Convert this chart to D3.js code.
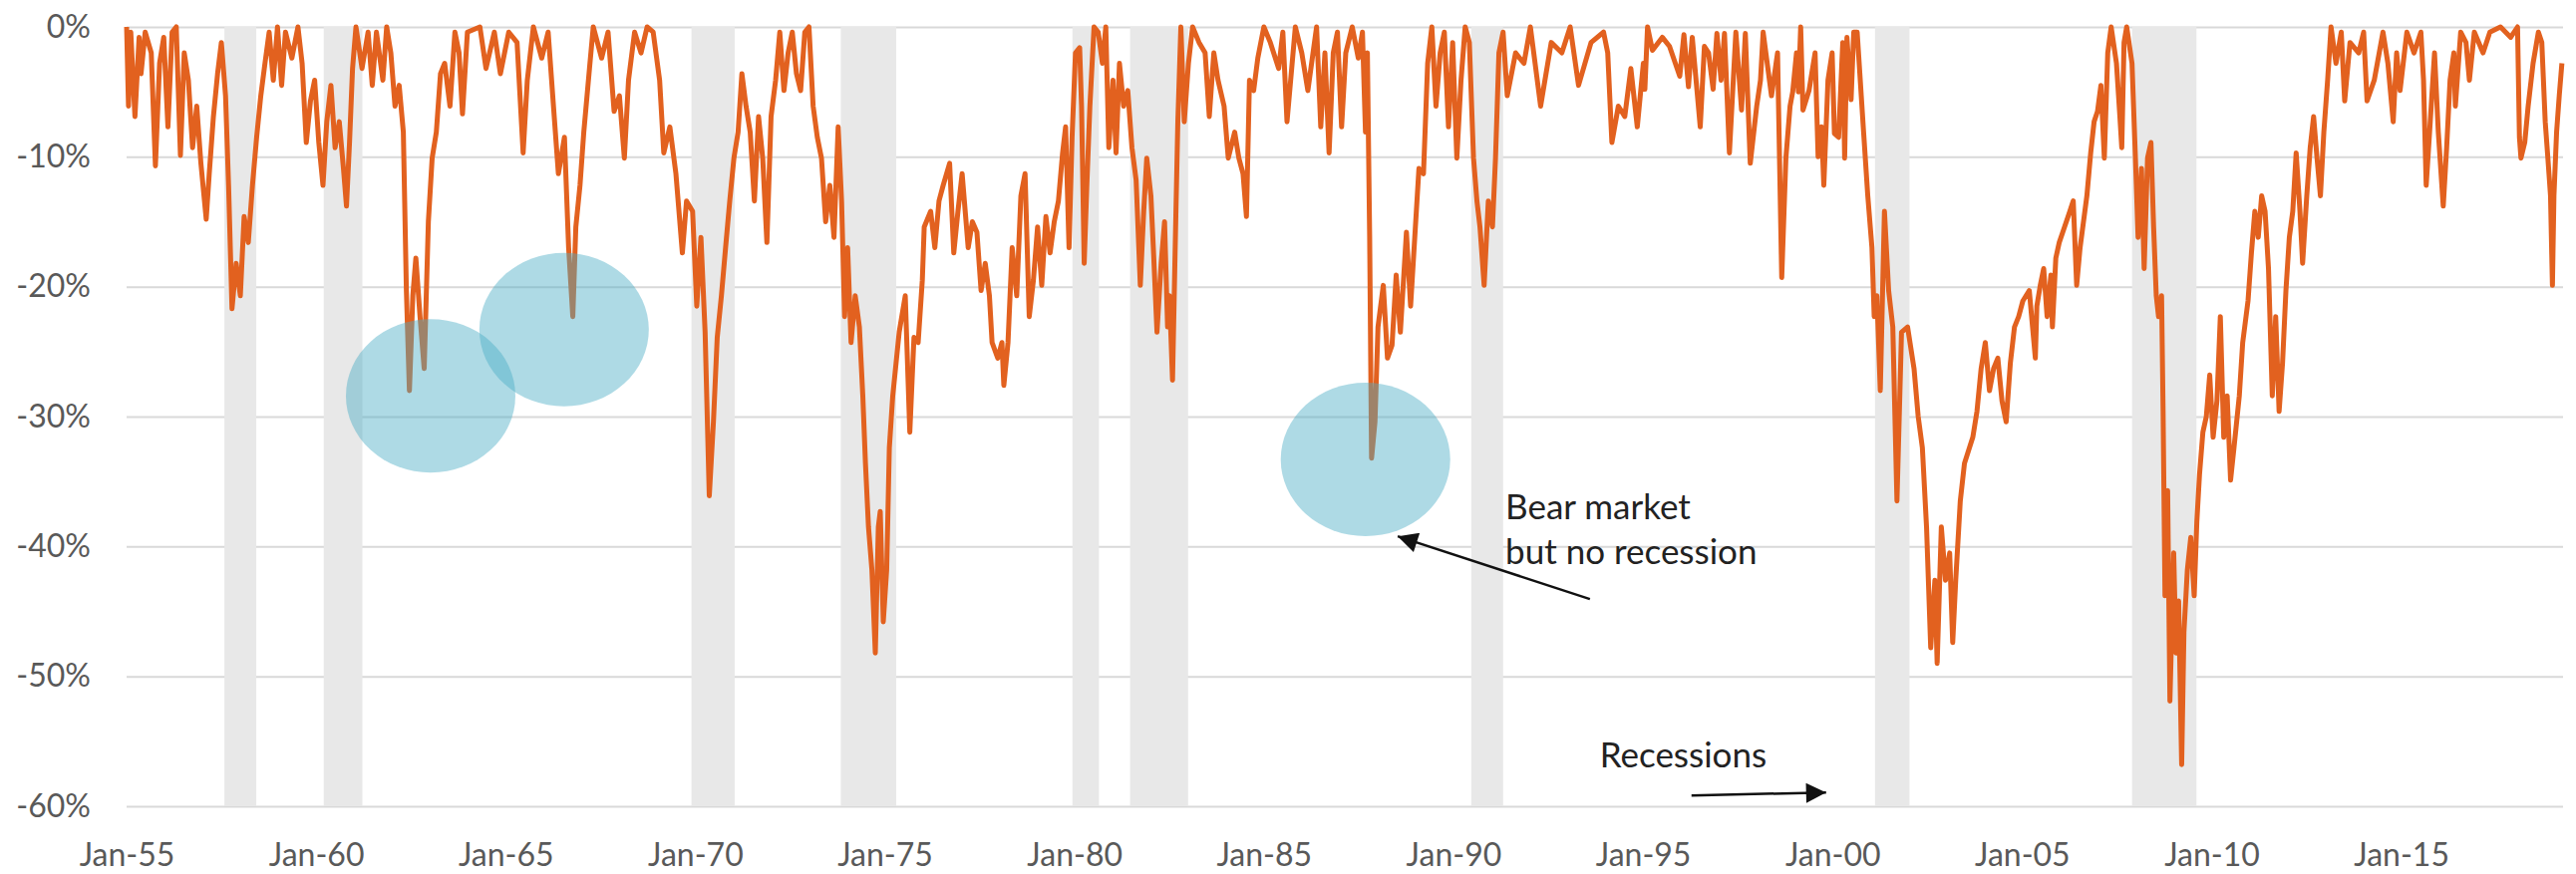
<!DOCTYPE html>
<html>
<head>
<meta charset="utf-8">
<script src="https://cdn.jsdelivr.net/npm/d3@7"></script>
<style>
  body { margin: 0; background: #fff; }
  #graf text { font-family: Lato, "Open Sans", sans-serif; }
</style>
</head>
<body>
<div id="graf"></div>
<script>
// Drawdown from previous peak (%): [year, value]
const dd1955 = [
  [1955.00,0],[1955.05,-6.1],[1955.11,-0.4],[1955.22,-6.9],[1955.33,-0.8],[1955.38,-3.6],[1955.49,-0.4],[1955.65,-2.0],
  [1955.76,-10.7],[1955.87,-2.8],[1955.98,-0.8],[1956.09,-7.7],[1956.20,-0.4],[1956.31,0],[1956.42,-9.9],[1956.52,-2.0],
  [1956.63,-4.1],[1956.74,-9.3],[1956.85,-6.1],[1956.96,-10.5],[1957.10,-14.8],[1957.18,-11.3],[1957.29,-6.9],[1957.40,-3.6],
  [1957.50,-1.2],[1957.61,-5.3],[1957.69,-12.2],[1957.78,-21.7],[1957.89,-18.2],[1958.00,-20.7],[1958.10,-14.6],[1958.21,-16.6],
  [1958.32,-12.2],[1958.43,-8.5],[1958.54,-5.3],[1958.65,-2.8],[1958.76,-0.4],[1958.87,-4.1],[1958.98,0],[1959.09,-4.5],
  [1959.19,-0.4],[1959.36,-2.4],[1959.52,0],[1959.63,-2.8],[1959.74,-8.9],[1959.85,-5.7],[1959.96,-4.1],[1960.07,-8.9],
  [1960.18,-12.2],[1960.28,-7.3],[1960.39,-4.5],[1960.50,-9.3],[1960.61,-7.3],[1960.72,-10.9],[1960.80,-13.8],[1960.88,-8.9],
  [1960.96,-3.2],[1961.05,0],[1961.21,-3.2],[1961.37,-0.4],[1961.48,-4.5],[1961.59,-0.4],[1961.76,-4.1],[1961.86,0],
  [1961.97,-2.0],[1962.08,-6.1],[1962.19,-4.5],[1962.30,-8.1],[1962.38,-20.3],[1962.46,-28.0],[1962.55,-20.7],[1962.63,-17.8],
  [1962.74,-22.3],[1962.85,-26.3],[1962.96,-15.0],[1963.06,-10.1],[1963.17,-8.1],[1963.28,-3.6],[1963.39,-2.8],[1963.53,-6.1],
  [1963.66,-0.4],[1963.77,-2.0],[1963.86,-6.7],[1963.99,-0.4],[1964.32,0],[1964.48,-3.2],[1964.70,-0.4],[1964.86,-3.6]
]
const dd1965 = [
  [1965.08,-0.4],[1965.30,-1.2],[1965.46,-9.7],[1965.57,-4.1],[1965.73,0],[1965.95,-2.4],[1966.12,-0.4],[1966.28,-6.9],
  [1966.39,-11.3],[1966.55,-8.5],[1966.66,-17.0],[1966.77,-22.3],[1966.85,-15.4],[1966.96,-12.2],[1967.06,-8.1],[1967.21,-3.2],
  [1967.31,0],[1967.53,-2.4],[1967.70,-0.4],[1967.86,-6.5],[1968.00,-5.3],[1968.13,-10.1],[1968.24,-4.1],[1968.40,-0.4],
  [1968.57,-2.0],[1968.73,0],[1968.89,-0.4],[1969.06,-4.1],[1969.17,-9.7],[1969.33,-7.7],[1969.49,-11.3],[1969.66,-17.4],
  [1969.77,-13.4],[1969.93,-14.2],[1970.04,-21.5],[1970.15,-16.2],[1970.26,-23.5],[1970.37,-36.1],[1970.48,-30.4],[1970.58,-23.9],
  [1970.69,-20.7],[1970.80,-17.0],[1970.91,-13.4],[1971.02,-10.1],[1971.13,-8.1],[1971.23,-3.6],[1971.34,-6.1],[1971.45,-8.1],
  [1971.56,-13.4],[1971.67,-6.9],[1971.78,-10.1],[1971.89,-16.6],[1972.00,-6.9],[1972.12,-4.1],[1972.23,-0.4],[1972.34,-4.9],
  [1972.45,-2.0],[1972.56,-0.4],[1972.67,-3.6],[1972.78,-4.9],[1972.89,-0.4],[1973.00,0],[1973.11,-6.1],[1973.22,-8.5],
  [1973.33,-10.1],[1973.44,-15.0],[1973.55,-12.2],[1973.66,-16.2],[1973.77,-7.7],[1973.86,-13.4],[1973.94,-22.3],[1974.02,-17.0],
  [1974.11,-24.3],[1974.22,-20.7],[1974.33,-23.1],[1974.42,-28.4],[1974.49,-33.6],[1974.57,-38.5],[1974.66,-41.8],[1974.75,-48.2],
  [1974.83,-38.5],[1974.88,-37.3],[1974.96,-45.8]
]
const dd1975 = [
  [1975.05,-41.8],[1975.12,-32.4],[1975.21,-28.4],[1975.38,-23.5],[1975.54,-20.7],[1975.66,-31.2],[1975.77,-23.9],[1975.88,-24.3],
  [1975.99,-19.5],[1976.04,-15.4],[1976.21,-14.2],[1976.32,-17.0],[1976.43,-13.4],[1976.54,-12.2],[1976.71,-10.5],[1976.82,-17.4],
  [1976.93,-14.2],[1977.04,-11.3],[1977.20,-17.0],[1977.31,-15.0],[1977.43,-15.8],[1977.54,-20.3],[1977.65,-18.2],[1977.76,-20.7],
  [1977.83,-24.3],[1977.98,-25.5],[1978.09,-24.3],[1978.14,-27.6],[1978.25,-24.3],[1978.36,-17.0],[1978.48,-20.7],[1978.59,-13.0],
  [1978.70,-11.3],[1978.81,-22.3],[1978.92,-19.5],[1979.03,-15.4],[1979.14,-19.9],[1979.25,-14.6],[1979.36,-17.4],[1979.47,-15.0],
  [1979.58,-13.4],[1979.69,-9.7],[1979.77,-7.7],[1979.86,-17.0],[1979.94,-8.5],[1980.03,-2.0],[1980.14,-1.6],[1980.19,-6.1],
  [1980.26,-18.2],[1980.33,-12.2],[1980.41,-6.1],[1980.52,0],[1980.63,-0.4],[1980.74,-2.8],[1980.83,0],[1980.91,-9.3],
  [1981.02,-4.1],[1981.10,-9.7],[1981.19,-2.8],[1981.30,-6.1],[1981.41,-4.9],[1981.52,-9.3],[1981.63,-11.8],[1981.74,-19.9],
  [1981.83,-14.2],[1981.91,-10.1],[1982.02,-13.0],[1982.09,-17.4],[1982.18,-23.5],[1982.29,-18.2],[1982.38,-15.0],[1982.46,-23.1],
  [1982.51,-20.7],[1982.59,-27.2],[1982.68,-14.2],[1982.73,-7.3],[1982.81,0],[1982.90,-7.3],[1983.01,-2.8],[1983.12,0],
  [1983.29,-1.2],[1983.45,-2.0],[1983.56,-6.9],[1983.68,-2.0],[1983.79,-4.1],[1983.95,-6.1],[1984.06,-10.1],[1984.23,-8.1],
  [1984.34,-10.1],[1984.45,-11.3],[1984.54,-14.6],[1984.62,-4.1],[1984.73,-4.9],[1984.84,-2.4]
]
const dd1985 = [
  [1985.00,0],[1985.17,-1.2],[1985.39,-3.2],[1985.50,-0.4],[1985.61,-7.3],[1985.83,0],[1986.00,-2.0],[1986.16,-4.9],
  [1986.39,0],[1986.50,-7.7],[1986.61,-2.0],[1986.72,-9.7],[1986.83,-2.0],[1986.94,-0.4],[1987.05,-7.7],[1987.16,-2.0],
  [1987.33,0],[1987.49,-2.4],[1987.60,-0.4],[1987.68,-8.1],[1987.73,-2.0],[1987.79,-16.2],[1987.84,-33.2],[1987.93,-30.4],
  [1988.01,-23.1],[1988.15,-19.9],[1988.26,-25.5],[1988.38,-24.5],[1988.49,-19.1],[1988.60,-23.5],[1988.76,-15.8],[1988.87,-21.5],
  [1988.98,-16.2],[1989.09,-10.9],[1989.21,-11.3],[1989.32,-2.8],[1989.43,0],[1989.54,-6.1],[1989.65,-2.0],[1989.76,-0.4],
  [1989.87,-7.7],[1989.98,-1.2],[1990.09,-10.1],[1990.20,-4.1],[1990.31,0],[1990.42,-1.2],[1990.53,-10.1],[1990.62,-13.4],
  [1990.70,-15.4],[1990.81,-19.9],[1990.92,-13.4],[1991.03,-15.4],[1991.11,-10.1],[1991.20,-2.0],[1991.31,-0.4],[1991.42,-5.3],
  [1991.64,-2.0],[1991.86,-2.8],[1992.03,0],[1992.30,-6.1],[1992.58,-1.2],[1992.86,-2.0],[1993.08,0],[1993.30,-4.5],
  [1993.63,-1.2],[1993.96,-0.4],[1994.07,-2.0],[1994.18,-8.9],[1994.35,-6.1],[1994.52,-6.9],[1994.68,-3.2],[1994.85,-7.7]
]
const dd1995 = [
  [1995.01,-2.8],[1995.05,-4.8],[1995.12,0],[1995.25,-1.8],[1995.51,-0.8],[1995.70,-1.5],[1995.97,-3.8],[1996.08,-0.6],
  [1996.20,-4.6],[1996.30,-0.8],[1996.51,-7.7],[1996.62,-1.5],[1996.73,-2.0],[1996.85,-4.8],[1996.95,-0.5],[1997.06,-4.1],
  [1997.15,-0.5],[1997.28,-9.7],[1997.45,-0.4],[1997.60,-6.4],[1997.70,-0.5],[1997.83,-10.5],[1998.00,-6.1],[1998.10,-4.1],
  [1998.17,-0.4],[1998.39,-5.3],[1998.55,-2.0],[1998.66,-19.3],[1998.77,-10.1],[1998.88,-6.1],[1998.95,-5.0],[1999.05,-2.0],
  [1999.10,-5.0],[1999.16,0],[1999.22,-6.4],[1999.38,-4.9],[1999.54,-2.0],[1999.62,-10.0],[1999.71,-7.7],[1999.77,-12.2],
  [1999.88,-4.1],[1999.99,-2.0],[2000.05,-8.2],[2000.16,-8.5],[2000.27,-1.2],[2000.32,-10.1],[2000.38,-0.8],[2000.49,-5.6],
  [2000.56,-0.4],[2000.65,-0.4],[2000.82,-8.1],[2000.93,-13.0],[2001.04,-17.0],[2001.10,-22.3],[2001.17,-20.7],[2001.26,-28.0],
  [2001.37,-14.2],[2001.48,-20.3],[2001.59,-23.1],[2001.70,-36.5],[2001.82,-23.5],[2001.98,-23.1],[2002.15,-26.3],[2002.26,-30.0],
  [2002.37,-32.4],[2002.48,-38.5],[2002.59,-47.8],[2002.70,-42.6],[2002.76,-49.0],[2002.87,-38.5],[2002.98,-42.6],[2003.09,-40.5],
  [2003.17,-47.4],[2003.25,-42.6],[2003.37,-36.5],[2003.48,-33.6],[2003.70,-31.6],[2003.81,-29.6],[2003.92,-26.3],[2004.03,-24.3],
  [2004.14,-28.0],[2004.25,-26.3],[2004.36,-25.5],[2004.47,-28.8],[2004.58,-30.4],[2004.69,-25.9],[2004.80,-23.1],[2004.91,-22.3]
]
const dd2005 = [
  [2005.02,-21.1],[2005.19,-20.3],[2005.35,-25.5],[2005.39,-21.5],[2005.48,-19.9],[2005.57,-18.6],[2005.66,-22.3],[2005.76,-19.1],
  [2005.80,-23.1],[2005.89,-17.8],[2005.98,-16.6],[2006.12,-15.4],[2006.26,-14.2],[2006.35,-13.4],[2006.44,-19.9],[2006.53,-17.0],
  [2006.62,-15.0],[2006.71,-13.0],[2006.81,-9.7],[2006.90,-7.3],[2006.99,-6.5],[2007.08,-4.5],[2007.17,-10.1],[2007.26,-2.0],
  [2007.35,0],[2007.49,-2.8],[2007.58,-6.9],[2007.63,-9.3],[2007.69,-1.2],[2007.76,0],[2007.90,-2.8],[2007.99,-10.1],
  [2008.06,-16.2],[2008.15,-10.9],[2008.22,-18.6],[2008.31,-10.1],[2008.40,-8.9],[2008.47,-15.4],[2008.54,-20.7],[2008.60,-22.3],
  [2008.68,-20.7],[2008.72,-29.6],[2008.77,-43.8],[2008.84,-35.7],[2008.90,-51.9],[2009.00,-40.5],[2009.06,-48.2],[2009.13,-44.2],
  [2009.21,-56.8],[2009.27,-46.6],[2009.36,-41.8],[2009.45,-39.3],[2009.54,-43.8],[2009.61,-38.1],[2009.68,-34.5],[2009.77,-31.2],
  [2009.86,-30.0],[2009.95,-26.8],[2010.04,-31.6],[2010.14,-28.8],[2010.23,-22.3],[2010.32,-31.6],[2010.41,-28.4],[2010.50,-34.9],
  [2010.59,-32.4],[2010.73,-28.4],[2010.82,-24.3],[2010.96,-21.1],[2011.05,-17.4],[2011.14,-14.2],[2011.23,-16.2],[2011.32,-13.0],
  [2011.41,-14.2],[2011.50,-18.6],[2011.60,-28.4],[2011.69,-22.3],[2011.78,-29.6],[2011.87,-25.9],[2011.96,-20.3],[2012.05,-16.2],
  [2012.14,-14.2],[2012.23,-9.7],[2012.33,-14.2],[2012.40,-18.2],[2012.51,-13.0],[2012.60,-9.3],[2012.69,-6.9],[2012.78,-10.1],
  [2012.87,-13.0],[2012.96,-8.1],[2013.06,-4.1],[2013.15,0],[2013.28,-2.8],[2013.42,-0.4],[2013.51,-5.7],[2013.65,-1.2],
  [2013.88,-2.0],[2014.01,-0.4],[2014.10,-5.7],[2014.29,-4.1],[2014.52,-0.4],[2014.65,-2.8],[2014.79,-7.3],[2014.88,-2.0],
  [2014.97,-4.9]
]
const dd2015 = [
  [2015.15,-0.4],[2015.34,-2.0],[2015.52,-0.4],[2015.59,-4.1],[2015.66,-12.2],[2015.75,-8.1],[2015.88,-2.0],[2015.98,-8.1],
  [2016.11,-13.8],[2016.20,-9.3],[2016.29,-4.1],[2016.39,-2.0],[2016.43,-6.1],[2016.57,-0.4],[2016.71,-1.2],[2016.80,-4.1],
  [2016.93,-0.4],[2017.16,-2.0],[2017.34,-0.4],[2017.62,0],[2017.89,-0.8],[2018.07,0],[2018.12,-8.5],[2018.16,-10.1],
  [2018.26,-8.9],[2018.35,-6.1],[2018.48,-2.8],[2018.62,-0.4],[2018.71,-1.2],[2018.80,-7.3],[2018.87,-10.1],[2018.94,-13.0],
  [2018.99,-19.9],[2019.03,-13.0],[2019.10,-8.1],[2019.17,-5.3],[2019.24,-2.8]
]

// Recession periods (start, end) in years
const recessions = [
  [1957.58, 1958.42], [1960.20, 1961.22], [1969.90, 1971.04], [1973.84, 1975.30], [1979.95, 1980.65],
  [1981.47, 1983.00], [1990.47, 1991.31], [2001.12, 2002.03], [2007.90, 2009.60]
]

// Bear markets without recession (circle centres)
const bearNoRecession = [[1963.02, -28.4], [1966.54, -23.3], [1987.68, -33.3]]

const xTicks = [1955, 1960, 1965, 1970, 1975, 1980, 1985, 1990, 1995, 2000, 2005, 2010, 2015]
const xTickLabels = ["Jan-55", "Jan-60", "Jan-65", "Jan-70", "Jan-75", "Jan-80", "Jan-85", "Jan-90", "Jan-95", "Jan-00", "Jan-05", "Jan-10", "Jan-15"]
const yTicks = [0, -10, -20, -30, -40, -50, -60]

const draw = () => {
  const dataset = [].concat(dd1955, dd1965, dd1975, dd1985, dd1995, dd2005, dd2015)

  const anchoTotal = 2584
  const altoTotal = 877
  const margins = { top: 27, right: 13, bottom: 68, left: 127 }
  const ancho = anchoTotal - margins.left - margins.right
  const alto = altoTotal - margins.top - margins.bottom

  const x = d3.scaleLinear().domain([1955, 2019.27]).range([0, ancho])
  const y = d3.scaleLinear().domain([-60, 0]).range([alto, 0])

  const svg = d3.select("#graf")
    .append("svg")
    .attr("width", anchoTotal)
    .attr("height", altoTotal)

  svg.append("rect")
    .attr("width", anchoTotal)
    .attr("height", altoTotal)
    .attr("fill", "#fff")

  const defs = svg.append("defs")
  defs.append("marker")
    .attr("id", "flecha")
    .attr("viewBox", "0 0 10 10")
    .attr("refX", 10)
    .attr("refY", 5)
    .attr("markerWidth", 23)
    .attr("markerHeight", 20)
    .attr("markerUnits", "userSpaceOnUse")
    .attr("orient", "auto")
    .append("path")
    .attr("d", "M0,0L10,5L0,10z")
    .attr("fill", "#111")

  const chart = svg.append("g")
    .attr("transform", `translate(${margins.left}, ${margins.top})`)

  // Ejes + rejilla
  const yAxis = d3.axisLeft(y)
    .tickValues(yTicks)
    .tickSize(-ancho)
    .tickPadding(36)
    .tickFormat((d) => d + "%")

  const yAxisGroup = chart.append("g").call(yAxis)
  yAxisGroup.select(".domain").remove()
  yAxisGroup.selectAll("line").attr("stroke", "#d9d9d9").attr("stroke-width", 2)
  yAxisGroup.selectAll("text")
    .attr("fill", "#595959")
    .style("font-size", "32px")

  const xAxis = d3.axisBottom(x)
    .tickValues(xTicks)
    .tickSize(0)
    .tickPadding(37)
    .tickFormat((d, i) => xTickLabels[i])

  const xAxisGroup = chart.append("g")
    .attr("transform", `translate(0, ${alto})`)
    .call(xAxis)
  xAxisGroup.select(".domain").remove()
  xAxisGroup.selectAll("text")
    .attr("fill", "#595959")
    .style("font-size", "32px")

  // Recesiones
  chart.append("g")
    .selectAll("rect")
    .data(recessions)
    .join("rect")
    .attr("x", (d) => x(d[0]))
    .attr("width", (d) => x(d[1]) - x(d[0]))
    .attr("y", y(0))
    .attr("height", y(-60) - y(0))
    .attr("fill", "#e8e8e8")

  // Serie
  const line = d3.line()
    .x((d) => x(d[0]))
    .y((d) => y(d[1]))

  chart.append("path")
    .datum(dataset)
    .attr("d", line)
    .attr("fill", "none")
    .attr("stroke", "#e2611f")
    .attr("stroke-width", 5)
    .attr("stroke-linejoin", "round")

  // Circulos
  chart.append("g")
    .selectAll("ellipse")
    .data(bearNoRecession)
    .join("ellipse")
    .attr("cx", (d) => x(d[0]))
    .attr("cy", (d) => y(d[1]))
    .attr("rx", 85)
    .attr("ry", 77)
    .attr("fill", "#4bacc6")
    .attr("opacity", 0.45)

  // Anotaciones
  const notas = chart.append("g")
    .attr("fill", "#222")
    .style("font-size", "35px")

  notas.append("text")
    .attr("x", x(1991.37))
    .attr("y", y(-37.91))
    .text("Bear market")
  notas.append("text")
    .attr("x", x(1991.37))
    .attr("y", y(-41.37))
    .text("but no recession")
  notas.append("text")
    .attr("x", x(1993.86))
    .attr("y", y(-57.02))
    .text("Recessions")

  const flechas = [
    [[1993.60, -44.05], [1988.53, -39.22]],
    [[1996.28, -59.17], [1999.83, -58.94]]
  ]
  chart.append("g")
    .selectAll("line")
    .data(flechas)
    .join("line")
    .attr("x1", (d) => x(d[0][0]))
    .attr("y1", (d) => y(d[0][1]))
    .attr("x2", (d) => x(d[1][0]))
    .attr("y2", (d) => y(d[1][1]))
    .attr("stroke", "#111")
    .attr("stroke-width", 2.5)
    .attr("marker-end", "url(#flecha)")
}

draw()
</script>
</body>
</html>
